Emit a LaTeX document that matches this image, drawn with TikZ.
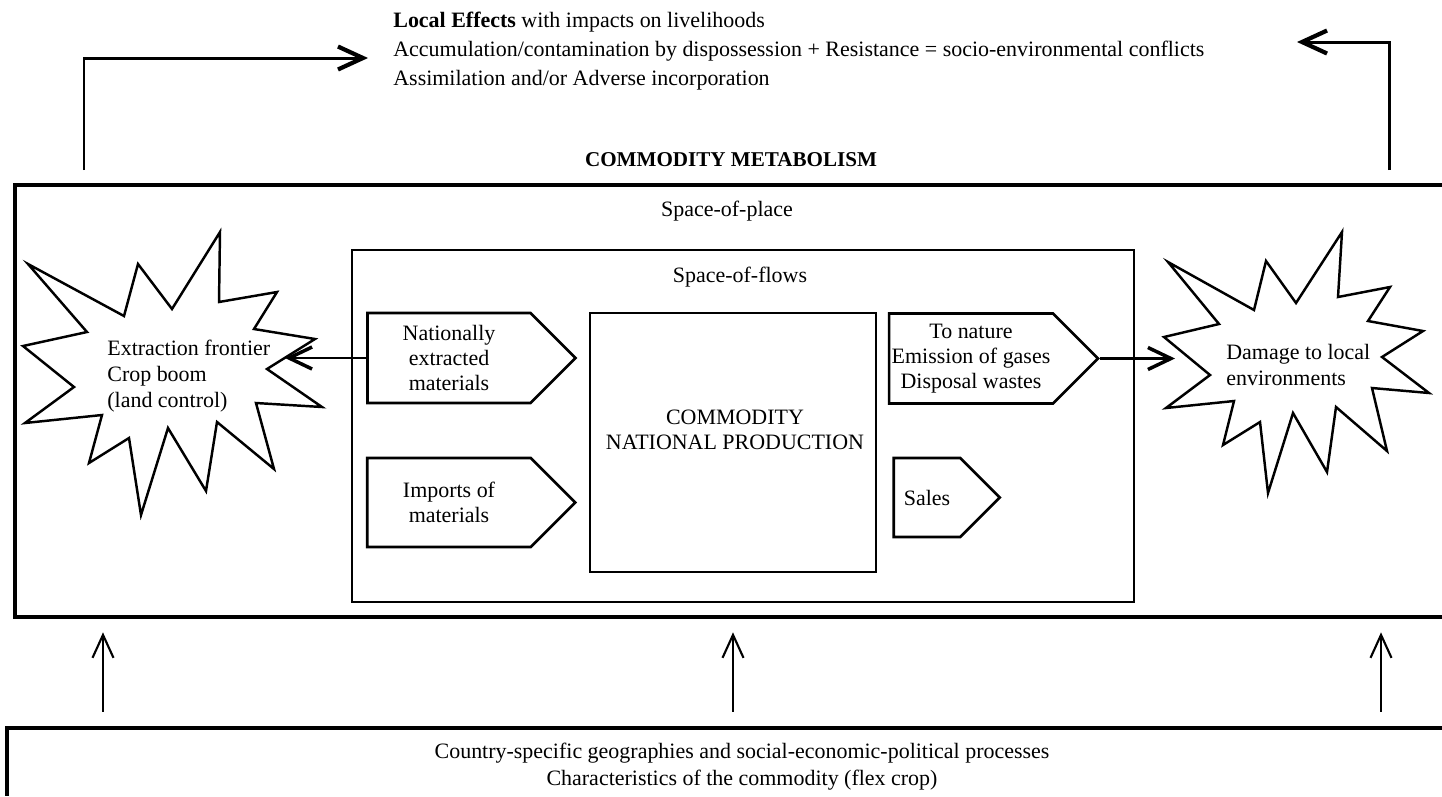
\documentclass[tikz,border=0pt,12pt]{standalone}
\usepackage{fontspec}
\setmainfont{Liberation Serif}
\usepackage{tikz}
\usetikzlibrary{arrows.meta,positioning,shapes.symbols}

\begin{document}
\begin{tikzpicture}[
  x=0.02cm, y=-0.02cm,
  font=\fontsize{12.5}{14.3}\selectfont,
  frame/.style={line width=2.2pt},
  box/.style={draw, line width=1.6pt, inner sep=0pt},
  pent/.style={signal, signal to=east, signal pointer angle=90, draw, line width=1.5pt, align=center},
  txt/.style={inner sep=0pt, align=center},
  burst/.style={line width=1.4pt, line join=miter},
  flow/.style={-{Straight Barb[length=4.6mm,width=4.4mm,line width=2pt]}, line width=1.2pt},
  flowtop/.style={-{Straight Barb[length=5mm,width=4.6mm,line width=2.4pt]}, line width=1.7pt},
  lift/.style={-{Straight Barb[length=4.6mm,width=4.2mm,line width=1.2pt]}, line width=1.1pt}
]
\useasboundingbox (0,0) rectangle (1442,796);

% frames (open on the right)
\node[minimum width=28.54cm, minimum height=8.64cm] (metab) at (728.5,401) {};
\draw[frame] (metab.north east) -- (metab.north west) -- (metab.south west) -- (metab.south east);
\node[minimum width=28.7cm, minimum height=1.56cm] (context) at (724.5,767) {};
\coordinate (floor) at (0,796);
\draw[frame] (context.north east) -- (context.north west) -- (context.west |- floor);

\node[txt, font=\fontsize{12}{14}\selectfont\bfseries] (metabttl) at (731,160) {COMMODITY METABOLISM};
\node[txt] (place) at (727,211) {Space-of-place};
\node[txt, font=\fontsize{12.5}{15.3}\selectfont] (ctxtxt) at (742,767) {Country-specific geographies and social-economic-political processes\\Characteristics of the commodity (flex crop)};

% space of flows
\node[box, minimum width=15.64cm, minimum height=7.04cm] (flows) at (743,426) {};
\node[txt] (flowsttl) at (740,277) {Space-of-flows};
\node[box, line width=1.4pt, minimum width=5.72cm, minimum height=5.18cm] (prod) at (733,442.5) {};
\node[txt] (prodtxt) at (735,430) {COMMODITY\\NATIONAL PRODUCTION};

\node[pent, minimum width=4.16cm, minimum height=1.8cm] (natl) at (449,358) {Nationally\\extracted\\materials};
\node[pent, minimum width=4.16cm, minimum height=1.78cm] (imports) at (449,502.5) {Imports of\\materials};
\node[pent, inner xsep=1.5pt, minimum width=4.16cm, minimum height=1.8cm] (nature) at (971,358.5) {To nature\\Emission of gases\\Disposal wastes};
\node[pent, minimum width=2.12cm, minimum height=1.58cm] (sales) at (927,497.5) {Sales};

% explosions
\draw[burst] (28,264) -- (124,316) -- (138,264) -- (172,309) -- (220,232) -- (219,302)
  -- (277,292) -- (254,329) -- (315,339) -- (267,369) -- (322,407) -- (256,403)
  -- (274,469) -- (217,422) -- (206,491) -- (168,428) -- (141,515) -- (129,438)
  -- (89,463) -- (102,415) -- (25,423) -- (74,387) -- (23,346) -- (87,332) -- cycle;
\draw[burst] (1168,262) -- (1254,310) -- (1266,261) -- (1296,303) -- (1342,232) -- (1338,297)
  -- (1390,287) -- (1368,321) -- (1423,331) -- (1382,357) -- (1429,393) -- (1372,388)
  -- (1387,451) -- (1336,407) -- (1327,472) -- (1293,413) -- (1268,493) -- (1260,422)
  -- (1223,445) -- (1234,401) -- (1166,408) -- (1210,375) -- (1164,337) -- (1219,324) -- cycle;
\node[txt, anchor=west, align=left, font=\fontsize{12.5}{14.7}\selectfont] (frontier) at (107,376) {Extraction frontier\\Crop boom\\(land control)};
\node[txt, anchor=west, align=left] (damage) at (1226,365) {Damage to local\\environments};

\node[txt, anchor=west, align=left, font=\fontsize{12.5}{16.4}\selectfont] (effects) at (393,51) {\textbf{Local Effects} with impacts on livelihoods\\Accumulation/contamination by dispossession + Resistance = socio-environmental conflicts\\Assimilation and/or Adverse incorporation};

% connectors
\coordinate (frontierIn) at (285,358);
\coordinate (damageIn) at (1175,358.5);
\draw[flow] (natl.west) -- (frontierIn);
\draw[flow] (nature.east) -- (damageIn);

\coordinate (riseL) at (84,170);
\coordinate (hitL) at (368,58);
\coordinate (riseR) at (1389,170);
\coordinate (hitR) at (1297,42);
\draw[flowtop] (riseL) |- (hitL);
\draw[flowtop] (riseR) |- (hitR);

\foreach \x in {103,733,1381}
  \draw[lift, shorten <=0.32cm, shorten >=0.3cm] (context.north -| \x,0) -- (metab.south -| \x,0);
\end{tikzpicture}
\end{document}
